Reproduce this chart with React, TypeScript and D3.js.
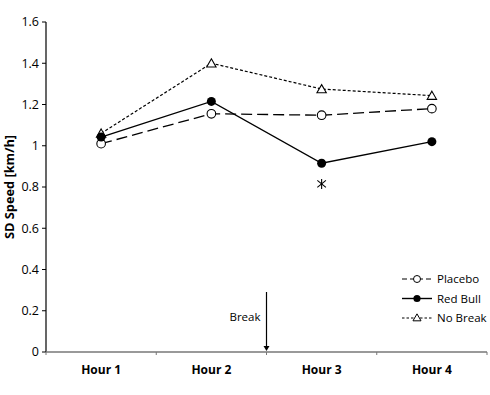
import React from "react";
import * as d3 from "d3";

const categories = ["Hour 1", "Hour 2", "Hour 3", "Hour 4"];
const placebo = [1.01, 1.155, 1.148, 1.18];
const redBull = [1.042, 1.215, 0.915, 1.02];
const noBreak = [1.06, 1.4, 1.275, 1.243];
const yTicks = [0, 0.2, 0.4, 0.6, 0.8, 1, 1.2, 1.4, 1.6];
const asterisk = { category: "Hour 3", value: 0.815 };

const W = 490, H = 395;
const M = { left: 46, right: 3, top: 22, bottom: 43 };
const FONT = "'Open Sans', 'Liberation Sans', sans-serif";

export default function App() {
  const x = d3.scaleBand().domain(categories).range([M.left, W - M.right]);
  const y = d3.scaleLinear().domain([0, 1.6]).range([H - M.bottom, M.top]);
  const cx = (c: string) => (x(c) as number) + x.bandwidth() / 2;
  const line = d3
    .line<number>()
    .x((_, i) => cx(categories[i]))
    .y((d) => y(d));
  const tri = d3.symbol().type(d3.symbolTriangle).size(38);
  const triSmall = d3.symbol().type(d3.symbolTriangle).size(28);
  const breakX = x("Hour 3") as number;
  const ax = cx(asterisk.category);
  const ay = y(asterisk.value);
  const legendRows = [
    { name: "Placebo", dash: "5,3", kind: "open" },
    { name: "Red Bull", dash: "", kind: "filled" },
    { name: "No Break", dash: "2.5,2", kind: "tri" },
  ];
  return (
    <svg width={W} height={H} style={{ display: "block", position: "absolute", left: 0, top: 0 }}>
      <rect width={W} height={H} fill="#fff" />
      {/* y axis */}
      <line x1={M.left} x2={M.left} y1={M.top} y2={y(0)} stroke="#000" strokeWidth={1.2} />
      {yTicks.map((t) => (
        <g key={t}>
          <line x1={M.left - 4} x2={M.left} y1={y(t)} y2={y(t)} stroke="#000" strokeWidth={1} />
          <text x={M.left - 7} y={y(t)} dy="0.35em" textAnchor="end" fontFamily={FONT} fontSize={12.5} fill="#000">
            {d3.format("")(t)}
          </text>
        </g>
      ))}
      {/* x axis */}
      <line x1={M.left} x2={W - M.right} y1={y(0)} y2={y(0)} stroke="#777" strokeWidth={1.3} />
      {[...categories.map((c) => x(c) as number), W - M.right].map((px, i) => (
        <line key={i} x1={px} x2={px} y1={y(0)} y2={y(0) + 3} stroke="#777" strokeWidth={1} />
      ))}
      {categories.map((c) => (
        <text key={c} x={cx(c)} y={y(0) + 22} textAnchor="middle" fontFamily={FONT} fontWeight="bold" fontSize={12} fill="#000">
          {c}
        </text>
      ))}
      {/* y label */}
      <text
        transform={`translate(10,${(M.top + y(0)) / 2}) rotate(-90)`}
        textAnchor="middle"
        dy="0.35em"
        fontFamily={FONT}
        fontWeight="bold"
        fontSize={12.8}
        fill="#000"
      >
        SD Speed [km/h]
      </text>
      {/* break arrow */}
      <line x1={breakX} x2={breakX} y1={292} y2={y(0) - 4} stroke="#000" strokeWidth={1.2} />
      <path d={`M${breakX - 3},${y(0) - 6} L${breakX + 3},${y(0) - 6} L${breakX},${y(0) - 1} Z`} fill="#000" />
      <text x={breakX - 6} y={317} dy="0.35em" textAnchor="end" fontFamily={FONT} fontSize={11.5} fill="#000">
        Break
      </text>
      {/* lines */}
      <path d={line(noBreak) || ""} fill="none" stroke="#000" strokeWidth={1.2} strokeDasharray="3,2" />
      <path d={line(placebo) || ""} fill="none" stroke="#000" strokeWidth={1.3} strokeDasharray="11,5" />
      <path d={line(redBull) || ""} fill="none" stroke="#000" strokeWidth={1.4} />
      {noBreak.map((v, i) => (
        <path key={"n" + i} d={tri() || ""} transform={`translate(${cx(categories[i])},${y(v) + 1})`} fill="#fff" stroke="#000" strokeWidth={1.1} />
      ))}
      {placebo.map((v, i) => (
        <circle key={"p" + i} cx={cx(categories[i])} cy={y(v)} r={4.3} fill="#fff" stroke="#000" strokeWidth={1.1} />
      ))}
      {redBull.map((v, i) => (
        <circle key={"r" + i} cx={cx(categories[i])} cy={y(v)} r={4.5} fill="#000" />
      ))}
      {/* asterisk */}
      <g stroke="#000" strokeWidth={1.1}>
        <line x1={ax} x2={ax} y1={ay - 5} y2={ay + 5} />
        <line x1={ax - 4.3} x2={ax + 4.3} y1={ay - 3.5} y2={ay + 3.5} />
        <line x1={ax - 4.3} x2={ax + 4.3} y1={ay + 3.5} y2={ay - 3.5} />
      </g>
      {/* legend */}
      {legendRows.map((r, i) => {
        const ly = 279 + i * 19.5;
        return (
          <g key={r.name}>
            <line x1={402} x2={432} y1={ly} y2={ly} stroke="#000" strokeWidth={r.kind === "filled" ? 1.4 : 1.2} strokeDasharray={r.dash || undefined} />
            {r.kind === "open" && <circle cx={417} cy={ly} r={3.5} fill="#fff" stroke="#000" strokeWidth={1} />}
            {r.kind === "filled" && <circle cx={417} cy={ly} r={3.6} fill="#000" />}
            {r.kind === "tri" && <path d={triSmall() || ""} transform={`translate(417,${ly + 0.5})`} fill="#fff" stroke="#000" strokeWidth={1} />}
            <text x={437} y={ly} dy="0.35em" fontFamily={FONT} fontSize={11.5} fill="#000">
              {r.name}
            </text>
          </g>
        );
      })}
    </svg>
  );
}
